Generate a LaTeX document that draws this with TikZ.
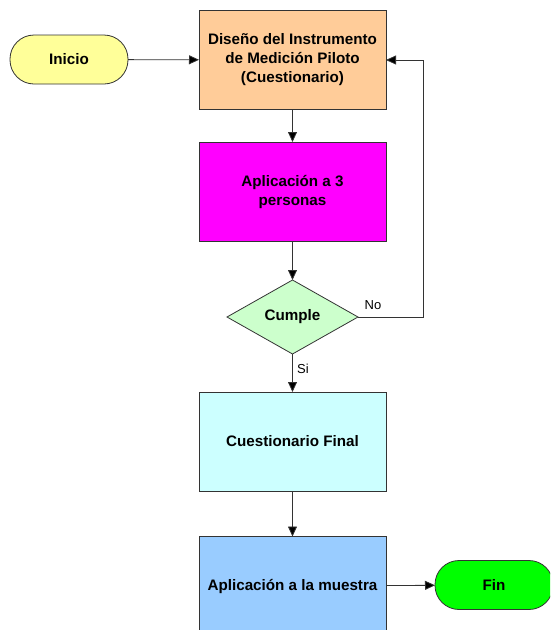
\documentclass[tikz,border=0pt]{standalone}
\usepackage{fontspec}
\setmainfont{Liberation Sans}
\usetikzlibrary{shapes.geometric,arrows.meta}
\definecolor{naranja}{HTML}{FFCC99}
\definecolor{magenta2}{HTML}{FF00FF}
\definecolor{verdecl}{HTML}{CCFFCC}
\definecolor{celeste}{HTML}{CCFFFF}
\definecolor{azulcl}{HTML}{99CCFF}
\definecolor{amarillo}{HTML}{FFFF99}
\definecolor{verdefin}{HTML}{00FF00}
\begin{document}
\begin{tikzpicture}[x=1pt,y=-1pt,
  caja/.style={draw=black!80,line width=0.8pt,minimum width=187pt,minimum height=99pt,
    align=center,font=\bfseries\fontsize{15.2}{19}\selectfont,outer sep=0pt},
  terminal/.style={draw=black!80,line width=0.8pt,rounded corners=24pt,minimum width=118pt,
    minimum height=49pt,font=\bfseries\fontsize{15.2}{19}\selectfont,outer sep=0pt},
  decision/.style={diamond,draw=black!80,line width=0.8pt,minimum width=131pt,minimum height=74pt,
    inner sep=0pt,font=\bfseries\fontsize{15.2}{19}\selectfont,outer sep=0pt},
  flecha/.style={draw=black!80,line width=0.8pt,-{Triangle[length=10pt,width=9pt,fill=black]}},
  etiqueta/.style={font=\fontsize{13}{15}\selectfont}]
\useasboundingbox (0,0) rectangle (550,630);
\clip (0,0) rectangle (550,630);
% nodos
\node[terminal,fill=amarillo] (inicio) at (69,59.5) {Inicio};
\node[caja,fill=naranja] (disenio) at (292.5,60) {Diseño del Instrumento\\de Medición Piloto\\(Cuestionario)};
\node[caja,fill=magenta2] (aplic) at (292.5,191.5) {Aplicación a 3\\personas};
\node[decision,fill=verdecl] (cumple) at (292.5,317) {Cumple};
\node[caja,fill=celeste] (final) at (292.5,441.5) {Cuestionario Final};
\node[caja,fill=azulcl] (muestra) at (292.5,586) {Aplicación a la muestra};
\node[terminal,fill=verdefin] (fin) at (494,585) {Fin};
\coordinate (vuelta) at (423,317);
% conectores
\draw[flecha] (inicio) -- (disenio);
\draw[flecha] (disenio) -- (aplic);
\draw[flecha] (aplic) -- (cumple);
\draw[flecha] (cumple) -- node[etiqueta,right,pos=0.4,xshift=1pt]{Si} (final);
\draw[flecha] (final) -- (muestra);
\draw[flecha] (muestra) -- (fin);
\draw[flecha] (cumple.east) -- node[etiqueta,above right,pos=0,xshift=3pt,yshift=4pt]{No} (vuelta) |- (disenio.east);
\end{tikzpicture}
\end{document}
